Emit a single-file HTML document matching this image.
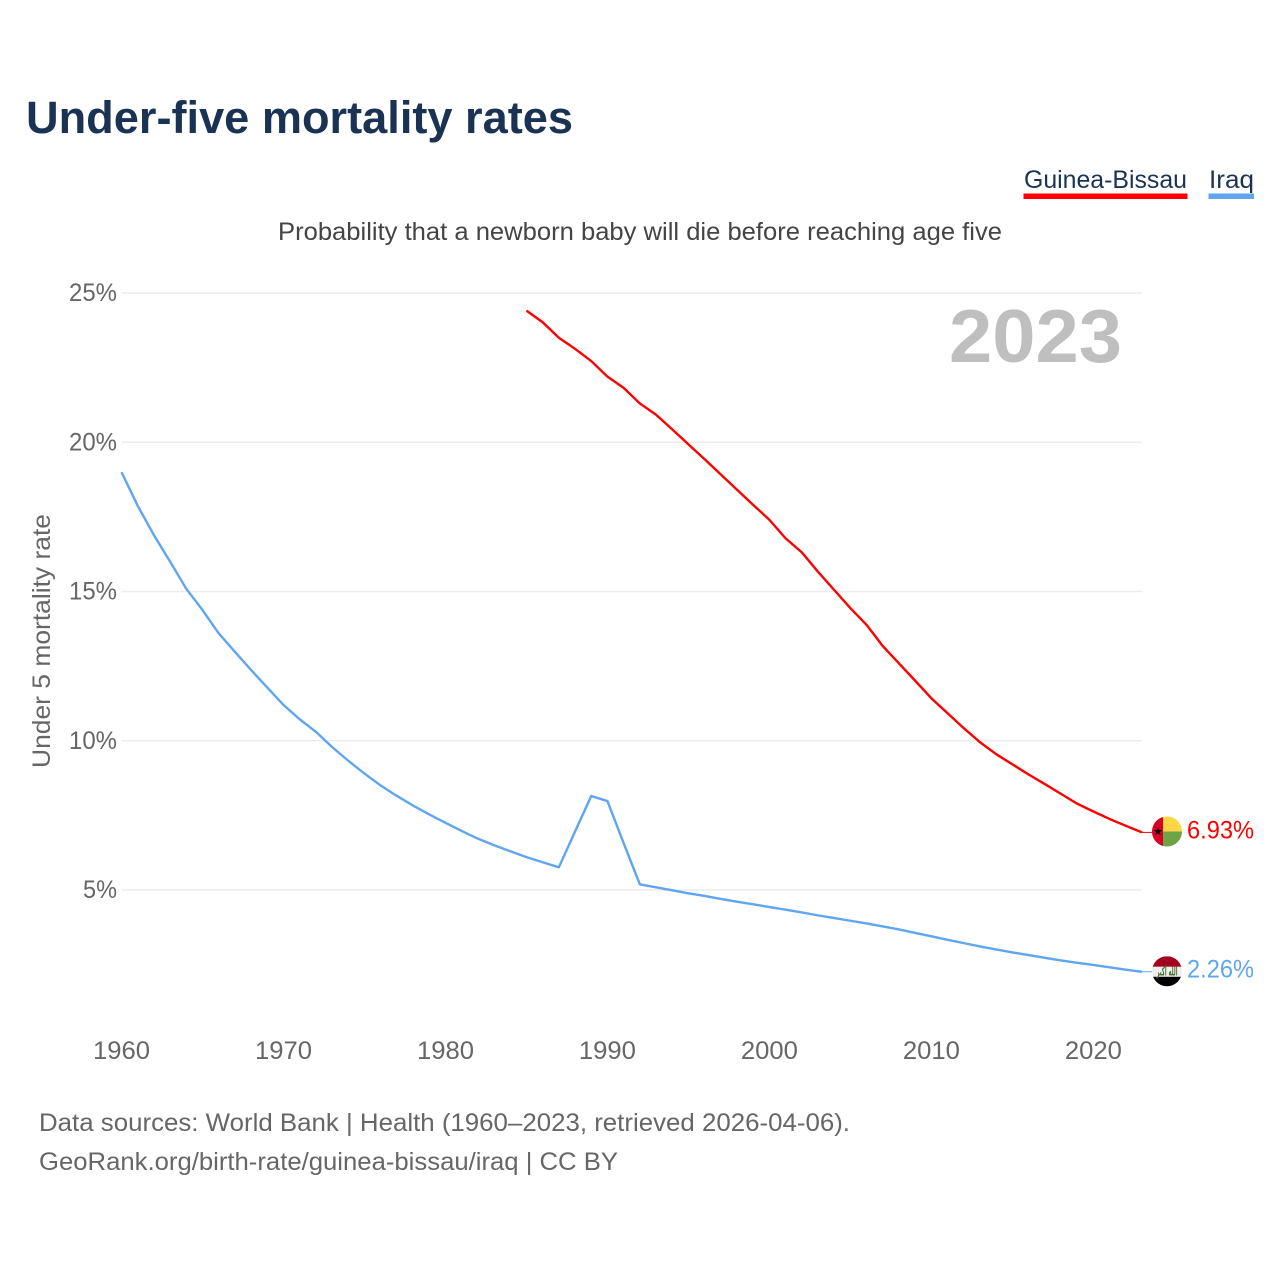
<!DOCTYPE html>
<html lang="en">
<head>
<meta charset="utf-8">
<title>Under-five mortality rates</title>
<style>
html,body{margin:0;padding:0;background:#fff;}
svg{display:block;font-family:"Liberation Sans",sans-serif;}
</style>
</head>
<body>
<svg id="chart" width="1280" height="1280" viewBox="0 0 1280 1280" xmlns="http://www.w3.org/2000/svg">
  <rect width="1280" height="1280" fill="#fff"/>
  <text x="26" y="133" font-size="45" font-weight="700" fill="#1a3355" textLength="547" lengthAdjust="spacingAndGlyphs">Under-five mortality rates</text>

  <g>
    <text x="1024" y="188" font-size="25" fill="#1a3355" textLength="163" lengthAdjust="spacingAndGlyphs">Guinea-Bissau</text>
    <rect x="1023.5" y="193.5" width="164" height="5.5" fill="#ff0000"/>
  </g>
  <g>
    <text x="1209" y="188" font-size="25" fill="#1a3355" textLength="45" lengthAdjust="spacingAndGlyphs">Iraq</text>
    <rect x="1208.5" y="193.5" width="45.5" height="5.5" fill="#60a5ef"/>
  </g>

  <text x="278" y="240" font-size="25" fill="#444" textLength="724" lengthAdjust="spacingAndGlyphs">Probability that a newborn baby will die before reaching age five</text>

  <g id="grid"></g>
  <g id="yticks"></g>
  <g id="xticks"></g>

  <text transform="translate(50,768) rotate(-90)" font-size="25" fill="#666" textLength="254" lengthAdjust="spacingAndGlyphs">Under 5 mortality rate</text>

  <text x="949" y="362" font-size="75" font-weight="700" fill="#bfbfbf" textLength="173" lengthAdjust="spacingAndGlyphs">2023</text>

  <g id="series"></g>

  <g id="flag-gw">
    <clipPath id="clip-gw"><circle cx="0" cy="0" r="15"/></clipPath>
    <g clip-path="url(#clip-gw)">
      <rect x="-15" y="-15" width="30" height="15" fill="#ffd644"/>
      <rect x="-15" y="0" width="30" height="15" fill="#6da544"/>
      <rect x="-15" y="-15" width="11" height="30" fill="#d80027"/>
      <polygon points="-9,-4.5 -7.9,-1.4 -4.7,-1.4 -7.3,0.5 -6.3,3.6 -9,1.7 -11.7,3.6 -10.7,0.5 -13.3,-1.4 -10.1,-1.4" fill="#000"/>
    </g>
  </g>
  <g id="flag-iq">
    <clipPath id="clip-iq"><circle cx="0" cy="0" r="15"/></clipPath>
    <g clip-path="url(#clip-iq)">
      <rect x="-15" y="-15" width="30" height="10.5" fill="#a2001d"/>
      <rect x="-15" y="-4.5" width="30" height="10" fill="#eeeeee"/>
      <rect x="-15" y="5.5" width="30" height="10" fill="#000"/>
      <text x="0" y="4" text-anchor="middle" font-size="12" font-weight="700" fill="#496e2d" style="font-family:'DejaVu Sans',sans-serif" textLength="21" lengthAdjust="spacingAndGlyphs">الله أكبر</text>
    </g>
  </g>

  <g id="values"></g>

  <text x="39" y="1131" font-size="25" fill="#666" textLength="811" lengthAdjust="spacingAndGlyphs">Data sources: World Bank | Health (1960–2023, retrieved 2026-04-06).</text>
  <text x="39" y="1170" font-size="25" fill="#666" textLength="579" lengthAdjust="spacingAndGlyphs">GeoRank.org/birth-rate/guinea-bissau/iraq | CC BY</text>
</svg>

<script>
const years = [1960,1961,1962,1963,1964,1965,1966,1967,1968,1969,1970,1971,1972,1973,1974,1975,1976,1977,1978,1979,1980,1981,1982,1983,1984,1985,1986,1987,1988,1989,1990,1991,1992,1993,1994,1995,1996,1997,1998,1999,2000,2001,2002,2003,2004,2005,2006,2007,2008,2009,2010,2011,2012,2013,2014,2015,2016,2017,2018,2019,2020,2021,2022,2023];
const iraqRates = [19.0,17.87,16.89,16.0,15.09,14.38,13.6,12.98,12.37,11.78,11.2,10.72,10.3,9.79,9.33,8.9,8.5,8.15,7.83,7.53,7.25,6.98,6.72,6.5,6.3,6.1,5.93,5.76,6.96,8.15,7.98,6.57,5.19,5.09,4.99,4.89,4.80,4.70,4.61,4.52,4.43,4.34,4.25,4.15,4.06,3.97,3.88,3.78,3.68,3.56,3.45,3.33,3.22,3.11,3.01,2.91,2.82,2.73,2.64,2.56,2.49,2.41,2.33,2.26];
const guineaYears = [1985,1986,1987,1988,1989,1990,1991,1992,1993,1994,1995,1996,1997,1998,1999,2000,2001,2002,2003,2004,2005,2006,2007,2008,2009,2010,2011,2012,2013,2014,2015,2016,2017,2018,2019,2020,2021,2022,2023];
const guineaRates = [24.41,24.02,23.5,23.13,22.72,22.2,21.82,21.3,20.92,20.43,19.93,19.43,18.92,18.41,17.9,17.4,16.78,16.31,15.66,15.05,14.44,13.88,13.17,12.59,12.01,11.42,10.92,10.42,9.95,9.55,9.21,8.87,8.55,8.22,7.89,7.63,7.38,7.15,6.93];
const yTickValues = [5,10,15,20,25];
const yTickLabels = ['5%','10%','15%','20%','25%'];
const xTickValues = [1960,1970,1980,1990,2000,2010,2020];
const xTickLabels = ['1960','1970','1980','1990','2000','2010','2020'];

const NS = 'http://www.w3.org/2000/svg';
const xScale = function (year) { return 121.5 + (year - 1960) * (1142 - 121.5) / 63; };
const yScale = function (rate) { return 890 - (rate - 5) * 29.85; };

function make(tag, parent, attrs, text) {
  const el = document.createElementNS(NS, tag);
  Object.keys(attrs).forEach(function (k) { el.setAttribute(k, attrs[k]); });
  if (text !== undefined) el.textContent = text;
  parent.appendChild(el);
  return el;
}
function pointsFor(xs, ys) {
  return xs.map(function (x, i) { return xScale(x).toFixed(2) + ',' + yScale(ys[i]).toFixed(2); }).join(' ');
}

const gridGroup = document.getElementById('grid');
const yTickGroup = document.getElementById('yticks');
const xTickGroup = document.getElementById('xticks');
const seriesGroup = document.getElementById('series');
const valueGroup = document.getElementById('values');

yTickValues.forEach(function (v, i) {
  const line = make('line', gridGroup, { x1: 121.5, x2: 1142, y1: yScale(v), y2: yScale(v), stroke: '#ececec', 'stroke-width': 1.6 });
  
  
  const label = make('text', yTickGroup, { x: 117, y: yScale(v) + 8, 'text-anchor': 'end', 'font-size': 25, fill: '#666', textLength: yTickLabels[i].length === 2 ? 34 : 48, lengthAdjust: 'spacingAndGlyphs' }, yTickLabels[i]);
  
  
});

xTickValues.forEach(function (v, i) {
  const label = make('text', xTickGroup, { x: xScale(v), y: 1059, 'text-anchor': 'middle', 'font-size': 25, fill: '#666', textLength: 57, lengthAdjust: 'spacingAndGlyphs' }, xTickLabels[i]);
  
  
});

const iraqLine = make('polyline', seriesGroup, { points: pointsFor(years, iraqRates), fill: 'none', stroke: '#60a5ef', 'stroke-width': 2.4, 'stroke-linejoin': 'round' });



const guineaLine = make('polyline', seriesGroup, { points: pointsFor(guineaYears, guineaRates), fill: 'none', stroke: '#ff0000', 'stroke-width': 2.4, 'stroke-linejoin': 'round' });



const lastIraq = iraqRates[iraqRates.length - 1];
const lastGuinea = guineaRates[guineaRates.length - 1];

const iraqLeader = make('line', seriesGroup, { x1: 1142, x2: 1152, y1: yScale(lastIraq), y2: yScale(lastIraq), stroke: '#60a5ef', 'stroke-width': 1 });



const guineaLeader = make('line', seriesGroup, { x1: 1142, x2: 1152, y1: yScale(lastGuinea), y2: yScale(lastGuinea), stroke: '#ff0000', 'stroke-width': 1 });



document.getElementById('flag-gw').setAttribute('transform', 'translate(1167,' + (yScale(lastGuinea) - 0.9) + ')');
document.getElementById('flag-iq').setAttribute('transform', 'translate(1167,' + (yScale(lastIraq) - 0.5) + ')');

const guineaValue = make('text', valueGroup, { x: 1254, y: yScale(lastGuinea) + 6, 'text-anchor': 'end', 'font-size': 25, fill: '#ff0000', textLength: 67, lengthAdjust: 'spacingAndGlyphs' }, lastGuinea.toFixed(2) + '%');



const iraqValue = make('text', valueGroup, { x: 1254, y: yScale(lastIraq) + 5.5, 'text-anchor': 'end', 'font-size': 25, fill: '#60a5ef', textLength: 67, lengthAdjust: 'spacingAndGlyphs' }, lastIraq.toFixed(2) + '%');


</script>
</body>
</html>
